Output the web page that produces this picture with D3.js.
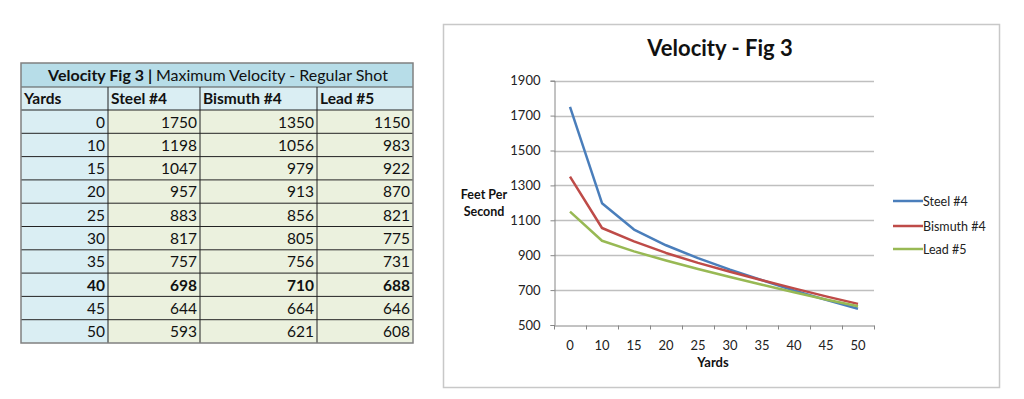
<!DOCTYPE html>
<html><head><meta charset="utf-8">
<script src="https://cdn.jsdelivr.net/npm/d3@7"></script>
<style>body{margin:0;background:#fff;} svg{display:block;font-family:Lato, "Open Sans", sans-serif;}</style>
</head><body>
<svg id="c" width="1024" height="399"></svg>
<script>
const yards = [0, 10, 15, 20, 25, 30, 35, 40, 45, 50];
const steel = [1750, 1198, 1047, 957, 883, 817, 757, 698, 644, 593];
const bismuth = [1350, 1056, 979, 913, 856, 805, 756, 710, 664, 621];
const lead = [1150, 983, 922, 870, 821, 775, 731, 688, 646, 608];
const seriesNames = ["Steel #4", "Bismuth #4", "Lead #5"];
const tableHeaders = ["Yards", "Steel #4", "Bismuth #4", "Lead #5"];
const yTicks = [500, 700, 900, 1100, 1300, 1500, 1700, 1900];
const boldRowYard = 40;

const svg = d3.select("#c");
const colors = ["#4a7ebb", "#be4b48", "#98b954"];
const series = [steel, bismuth, lead];

// ---------- TABLE ----------
const tx = d3.scaleOrdinal().domain([0,1,2,3,4]).range([21, 108, 200, 317, 413]);
const rowY = d3.scaleLinear().domain([0, 10]).range([110, 343]);
const tTop = 63, tTitleB = 87, tHeadB = 110;
const fs = 15.5;
const T = svg.append("g");
T.append("rect").attr("x",21).attr("y",tTop).attr("width",392).attr("height",tTitleB-tTop).attr("fill","#b7dde8");
T.append("rect").attr("x",21).attr("y",tTitleB).attr("width",392).attr("height",tHeadB-tTitleB).attr("fill","#daeef3");
yards.forEach((y,i)=>{
  T.append("rect").attr("x",21).attr("y",rowY(i)).attr("width",87).attr("height",rowY(i+1)-rowY(i)).attr("fill","#daeef3");
  T.append("rect").attr("x",108).attr("y",rowY(i)).attr("width",305).attr("height",rowY(i+1)-rowY(i)).attr("fill","#ebf1de");
});
const lineC = "#222";
for (let i=0;i<10;i++){
  T.append("line").attr("x1",21).attr("x2",413).attr("y1",rowY(i)).attr("y2",rowY(i)).attr("stroke",lineC).attr("stroke-width",1);
}
T.append("line").attr("x1",21).attr("x2",413).attr("y1",tTitleB).attr("y2",tTitleB).attr("stroke","#555").attr("stroke-width",1);
[1,2,3].forEach(c=>{
  T.append("line").attr("x1",tx(c)).attr("x2",tx(c)).attr("y1",tTitleB).attr("y2",343).attr("stroke",lineC).attr("stroke-width",1);
});
T.append("rect").attr("x",21).attr("y",tTop).attr("width",392).attr("height",343-tTop).attr("fill","none").attr("stroke","#808080").attr("stroke-width",1.5);
const tt = T.append("text").attr("x",218).attr("y",81).attr("text-anchor","middle").attr("font-size",16).attr("fill","#111");
tt.append("tspan").attr("font-weight","bold").text("Velocity Fig 3 | ");
tt.append("tspan").text("Maximum Velocity - Regular Shot");
tableHeaders.forEach((h,c)=>{
  T.append("text").attr("x",tx(c)+3).attr("y",104).attr("font-size",fs).attr("font-weight","bold").attr("fill","#111").text(h);
});
yards.forEach((yd,i)=>{
  const row = [yd, steel[i], bismuth[i], lead[i]];
  const bold = yd===boldRowYard;
  row.forEach((v,c)=>{
    T.append("text").attr("x",tx(c+1)-3).attr("y",rowY(i)+17.5).attr("text-anchor","end")
      .attr("font-size",fs).attr("font-weight",bold?"bold":"normal").attr("fill","#111").text(v);
  });
});

// ---------- CHART ----------
svg.append("rect").attr("x",443.5).attr("y",24.5).attr("width",556).attr("height",363).attr("fill","#fff").attr("stroke","#c8c8c8").attr("stroke-width",1.5);
svg.append("text").attr("x",720).attr("y",56).attr("text-anchor","middle").attr("font-size",22).attr("font-weight","bold").attr("fill","#111").text("Velocity - Fig 3");

const x = d3.scaleBand().domain(yards).range([554, 874]);
const y = d3.scaleLinear().domain([500, 1900]).range([325, 80.7]);

svg.append("g").selectAll("line").data(yTicks.slice(1)).join("line")
  .attr("x1",554).attr("x2",874).attr("y1",d=>Math.round(y(d))+0.5).attr("y2",d=>Math.round(y(d))+0.5)
  .attr("stroke","#bfbfbf").attr("stroke-width",1.3);

const ya = svg.append("g").attr("transform","translate(554.5,0)")
  .call(d3.axisLeft(y).tickValues(yTicks).tickSize(4).tickPadding(10).tickFormat(d3.format("d")));
ya.select(".domain").attr("stroke","#868686");
ya.selectAll(".tick line").attr("stroke","#868686");
ya.selectAll("text").attr("font-size",13).attr("fill","#222").attr("font-family","Lato, sans-serif");

const xa = svg.append("g").attr("transform","translate(0,325.5)")
  .call(d3.axisBottom(x).tickSize(0).tickPadding(15));
xa.select(".domain").attr("stroke","#868686");
xa.selectAll("text").attr("font-size",13).attr("fill","#222").attr("font-family","Lato, sans-serif");
const bounds = yards.map(d=>x(d)).concat([x(yards[yards.length-1])+x.bandwidth()]);
xa.selectAll(".btick").data(bounds).join("line").attr("class","btick")
  .attr("x1",d=>Math.round(d)+0.5).attr("x2",d=>Math.round(d)+0.5).attr("y1",0).attr("y2",4).attr("stroke","#868686");

svg.append("text").attr("x",484).attr("y",199).attr("text-anchor","middle").attr("font-size",12.5).attr("font-weight","bold").attr("fill","#111").text("Feet Per");
svg.append("text").attr("x",484).attr("y",216).attr("text-anchor","middle").attr("font-size",12.5).attr("font-weight","bold").attr("fill","#111").text("Second");
svg.append("text").attr("x",713).attr("y",367).attr("text-anchor","middle").attr("font-size",13).attr("font-weight","bold").attr("fill","#111").text("Yards");

const line = d3.line().x((d,i)=>x(yards[i])+x.bandwidth()/2).y(d=>y(d));
series.forEach((s,k)=>{
  svg.append("path").datum(s).attr("d",line).attr("fill","none").attr("stroke",colors[k]).attr("stroke-width",2.5).attr("stroke-linejoin","round");
});

const legY = [201, 226, 249];
seriesNames.forEach((n,k)=>{
  svg.append("line").attr("x1",893).attr("x2",923).attr("y1",legY[k]).attr("y2",legY[k]).attr("stroke",colors[k]).attr("stroke-width",2.5);
  svg.append("text").attr("x",923).attr("y",legY[k]+4.5).attr("font-size",12.5).attr("fill","#222").text(n);
});
</script>
</body></html>
